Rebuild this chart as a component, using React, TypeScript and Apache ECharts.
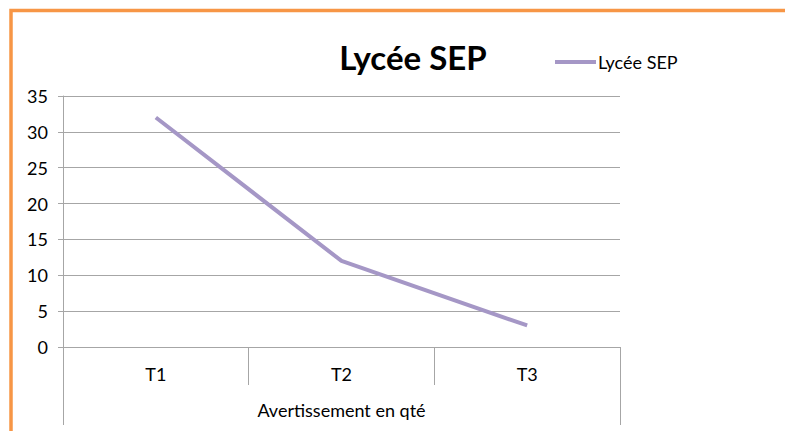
import React, { useEffect, useRef } from "react";
import * as echarts from "echarts";

const categories = ["T1", "T2", "T3"];
const groupLabel = ["Avertissement en qté"];
const seriesName = "Lycée SEP";
const values = [32, 12, 3];
const yMin = 0;
const yMax = 35;
const yStep = 5;

const FONT = "Lato, 'Open Sans', sans-serif";
const GRAY = "#A6A6A6";

export default function App() {
  const ref = useRef<HTMLDivElement>(null);
  useEffect(() => {
    if (!ref.current) return;
    const chart = echarts.init(ref.current, undefined, { renderer: "svg" });
    chart.setOption({
      animation: false,
      backgroundColor: "#ffffff",
      title: {
        text: seriesName,
        left: 408,
        textAlign: "center",
        top: 35,
        textStyle: { fontFamily: FONT, fontWeight: "bold", fontSize: 33, color: "#000" },
      },
      legend: {
        left: 550,
        top: 48,
        itemWidth: 41,
        itemHeight: 4,
        itemGap: 2,
        textStyle: { fontFamily: FONT, fontSize: 18, color: "#000", padding: [0, 0, 0, -3] },
        data: [{ name: seriesName, icon: "rect" }],
      },
      grid: { left: 63, right: 165, top: 96, bottom: 84, containLabel: false },
      xAxis: [
        {
          type: "category",
          data: categories,
          boundaryGap: true,
          axisLine: { show: true, lineStyle: { color: GRAY, width: 1 } },
          axisTick: { show: true, length: 38, interval: 0, lineStyle: { color: GRAY } },
          axisLabel: { margin: 18, fontFamily: FONT, fontSize: 18, color: "#000" },
          splitLine: { show: false },
        },
        {
          type: "category",
          data: groupLabel,
          position: "bottom",
          offset: 38,
          boundaryGap: true,
          axisLine: { show: false },
          axisTick: { show: true, length: 40, lineStyle: { color: GRAY } },
          axisLabel: { margin: 16, fontFamily: FONT, fontSize: 18, color: "#000" },
          splitLine: { show: false },
        },
      ],
      yAxis: {
        type: "value",
        min: yMin,
        max: yMax,
        interval: yStep,
        axisLine: { show: true, lineStyle: { color: GRAY, width: 1 } },
        axisTick: { show: true, length: 5, lineStyle: { color: GRAY } },
        axisLabel: { margin: 15, fontFamily: FONT, fontSize: 18, color: "#000" },
        splitLine: { show: true, lineStyle: { color: GRAY, width: 1 } },
      },
      series: [
        {
          name: seriesName,
          type: "line",
          data: values,
          xAxisIndex: 0,
          symbol: "none",
          lineStyle: { color: "#A597C6", width: 4 },
          itemStyle: { color: "#A597C6" },
        },
      ],
      graphic: [
        {
          type: "rect",
          shape: { x: 11, y: 10.5, width: 800, height: 450 },
          style: { fill: "none", stroke: "#F79646", lineWidth: 3.5 },
          silent: true,
        },
      ],
    });
    return () => chart.dispose();
  }, []);
  return (
    <div
      ref={ref}
      style={{ position: "absolute", left: 0, top: 0, width: 785, height: 431 }}
    />
  );
}
